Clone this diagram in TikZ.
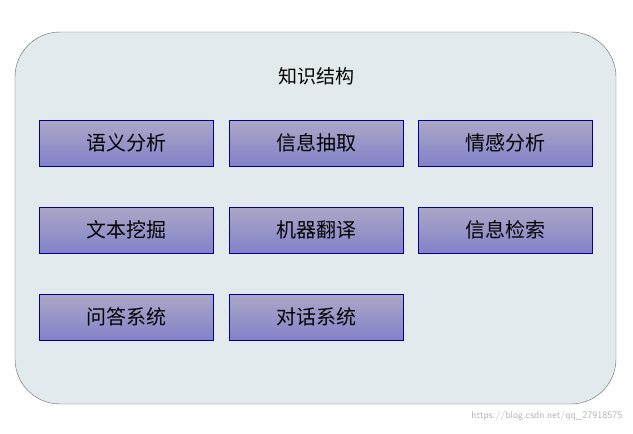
\documentclass[tikz,border=0pt]{standalone}
\usepackage{fontspec}
\newfontfamily\cjk{Noto Sans CJK SC}
\begin{document}
\begin{tikzpicture}[x=1pt,y=-1pt,
  box/.style={draw=blue!60!black,top color=violet!25!blue!25!gray!55,bottom color=blue!40!gray!70,minimum width=174pt,minimum height=46pt,inner sep=0pt,font=\cjk\fontsize{20}{24}\selectfont}]
\useasboundingbox (0,0) rectangle (633,434);
\fill[white] (0,0) rectangle (633,434);
\node[draw=gray!80!black,fill=cyan!25!gray!20!white,rounded corners=45pt,minimum width=601pt,minimum height=372pt] (frame) at (315.5,218) {};
\node[font=\cjk\fontsize{19}{22}\selectfont] (title) at (316,76) {知识结构};
\node[box] (a) at (126,143) {语义分析};
\node[box] (b) at (316,143) {信息抽取};
\node[box] (c) at (505,143) {情感分析};
\node[box] (d) at (126,230) {文本挖掘};
\node[box] (e) at (316,230) {机器翻译};
\node[box] (f) at (505,230) {信息检索};
\node[box] (g) at (126,317) {问答系统};
\node[box] (h) at (316,317) {对话系统};
\node[text=gray!60,font=\sffamily\fontsize{10}{12}\selectfont,anchor=east] (wm) at (626,416) {https://blog.csdn.net/qq\_27918575};
\end{tikzpicture}
\end{document}
